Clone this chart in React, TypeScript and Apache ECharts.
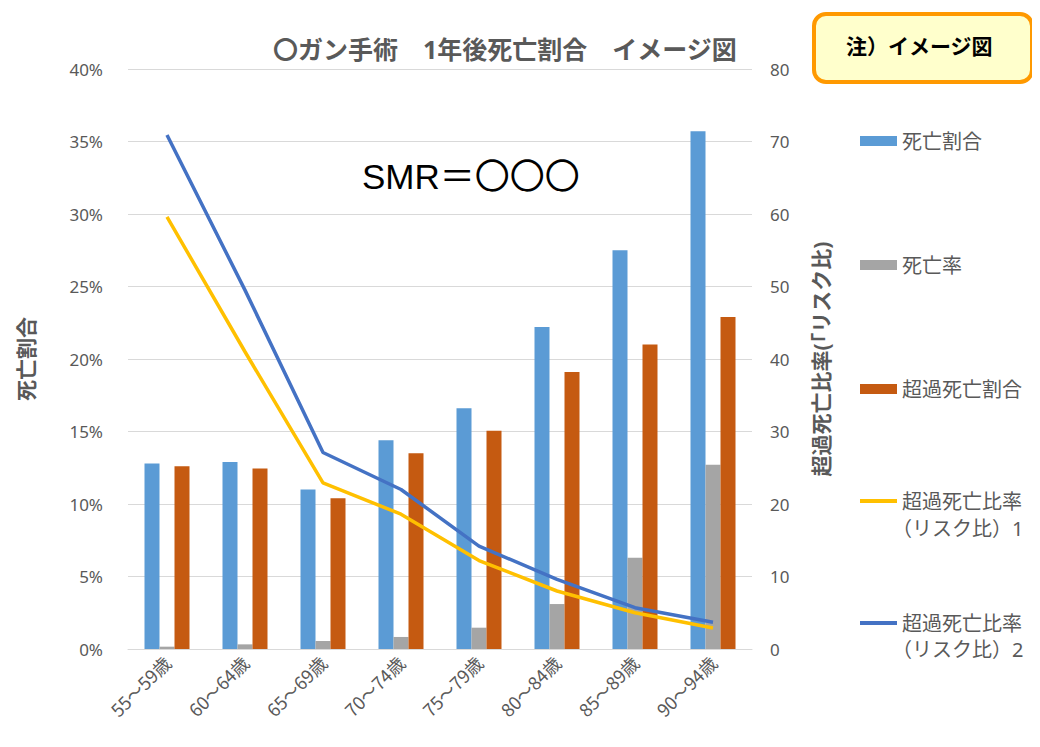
import React, { useEffect, useRef } from "react";
import * as echarts from "echarts";

const categories = ["55～59歳", "60～64歳", "65～69歳", "70～74歳", "75～79歳", "80～84歳", "85～89歳", "90～94歳"];
const deathShare = [12.8, 12.9, 11.0, 14.4, 16.6, 22.2, 27.5, 35.7];
const deathRate = [0.16, 0.32, 0.55, 0.83, 1.47, 3.1, 6.3, 12.7];
const excessShare = [12.6, 12.45, 10.4, 13.5, 15.05, 19.1, 21.0, 22.9];
const riskRatio1 = [59.6, 41.0, 22.9, 18.6, 12.2, 8.0, 5.0, 2.9];
const riskRatio2 = [70.9, 49.5, 27.1, 22.0, 14.2, 9.6, 5.7, 3.7];
const leftTicks = [0, 40, 5];
const rightTicks = [0, 80, 10];

const FONT = "'Noto Sans', 'Noto Sans CJK JP', sans-serif";
const CJK = "'Noto Sans CJK JP', 'Noto Sans', sans-serif";
const GRAY = "#595959";

export default function App() {
  const ref = useRef<HTMLDivElement>(null);
  useEffect(() => {
    const chart = echarts.init(ref.current!, null, { renderer: "svg" });
    const names = ["死亡割合", "死亡率", "超過死亡割合", "超過死亡比率（リスク比）1", "超過死亡比率（リスク比）2"];
    const legendTops = [126, 250, 374, 486, 608];
    const legends = names.map((n, i) => ({
      data: [n],
      left: 855,
      top: legendTops[i],
      icon: "rect",
      itemWidth: 37,
      itemHeight: i < 3 ? 10 : 4,
      formatter: () => (i < 3 ? n : "超過死亡比率"),
      textStyle: { fontSize: 20, color: GRAY, fontFamily: FONT, padding: [0, 0, 0, 0] },
      selectedMode: false,
    }));
    chart.setOption({
      animation: false,
      title: {
        text: "〇ガン手術　1年後死亡割合　イメージ図",
        left: 268,
        top: 31,
        textStyle: { fontSize: 25, color: GRAY, fontWeight: "bold", fontFamily: FONT },
      },
      legend: legends,
      grid: { left: 128, right: 288, top: 69, bottom: 98 },
      xAxis: {
        type: "category",
        data: categories,
        axisLine: { lineStyle: { color: "#D9D9D9" } },
        axisTick: { show: false },
        axisLabel: { rotate: 45, fontSize: 18, color: GRAY, fontFamily: CJK, margin: 10, interval: 0 },
      },
      yAxis: [
        {
          type: "value",
          min: leftTicks[0],
          max: leftTicks[1],
          interval: leftTicks[2],
          name: "死亡割合",
          nameLocation: "middle",
          nameRotate: 90,
          nameGap: 92,
          nameTextStyle: { fontSize: 21, color: GRAY, fontWeight: "bold", fontFamily: FONT },
          axisLabel: { formatter: "{value}%", fontSize: 17, color: GRAY, fontFamily: FONT, margin: 25 },
          axisLine: { show: false },
          axisTick: { show: false },
          splitLine: { lineStyle: { color: "#D9D9D9" } },
        },
        {
          type: "value",
          min: rightTicks[0],
          max: rightTicks[1],
          interval: rightTicks[2],
          name: "超過死亡比率(「リスク比)",
          nameLocation: "middle",
          nameRotate: 90,
          nameGap: 58,
          nameTextStyle: { fontSize: 21, color: GRAY, fontWeight: "bold", fontFamily: FONT },
          axisLabel: { fontSize: 17, color: GRAY, fontFamily: FONT, margin: 18 },
          axisLine: { show: false },
          axisTick: { show: false },
          splitLine: { show: false },
        },
      ],
      series: [
        { name: names[0], type: "bar", data: deathShare, barWidth: 15, barGap: "0%", itemStyle: { color: "#5B9BD5" } },
        { name: names[1], type: "bar", data: deathRate, barWidth: 15, barGap: "0%", itemStyle: { color: "#A5A5A5" } },
        { name: names[2], type: "bar", data: excessShare, barWidth: 15, barGap: "0%", itemStyle: { color: "#C55A11" } },
        {
          name: names[3], type: "line", yAxisIndex: 1, data: riskRatio1, symbol: "none",
          lineStyle: { color: "#FFC000", width: 3.5 }, itemStyle: { color: "#FFC000" },
        },
        {
          name: names[4], type: "line", yAxisIndex: 1, data: riskRatio2, symbol: "none",
          lineStyle: { color: "#4472C4", width: 3.5 }, itemStyle: { color: "#4472C4" },
        },
      ],
      graphic: [
        {
          type: "text", left: 892, top: 518,
          style: { text: "（リスク比）1", fontSize: 20, fill: GRAY, fontFamily: FONT },
        },
        {
          type: "text", left: 892, top: 639,
          style: { text: "（リスク比）2", fontSize: 20, fill: GRAY, fontFamily: FONT },
        },
        {
          type: "text", left: 356, top: 153,
          style: { text: "SMR＝〇〇〇", fontSize: 35, fill: "#000", fontFamily: "'Liberation Sans', 'Noto Sans CJK JP', sans-serif", backgroundColor: "#fff", padding: [6, 6] },
        },
        {
          type: "rect", left: 812, top: 12,
          shape: { width: 218, height: 68, r: 12 },
          style: { fill: "#FFFFCC", stroke: "#FF9900", lineWidth: 4 },
        },
        {
          type: "text", left: 846, top: 35,
          style: { text: "注）イメージ図", fontSize: 21, fontWeight: "bold", fill: "#000", fontFamily: FONT },
        },
      ],
    });
    return () => chart.dispose();
  }, []);
  return <div ref={ref} style={{ width: 1040, height: 747, margin: -8 }} />;
}
